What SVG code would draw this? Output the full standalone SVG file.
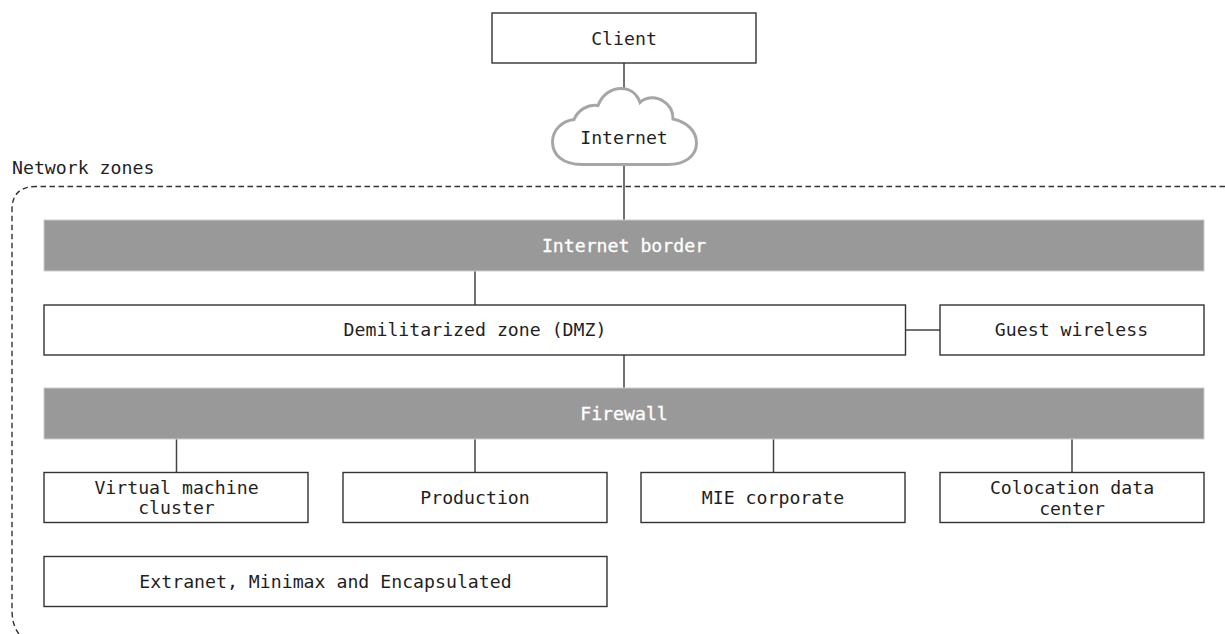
<svg xmlns="http://www.w3.org/2000/svg" width="1225" height="634" viewBox="0 0 1225 634">
<style>
text{font-family:"DejaVu Sans Mono","Liberation Mono",monospace;font-size:18.2px;fill:#1f1f1f;text-anchor:middle;dominant-baseline:central}
.b{fill:#fff;stroke:#333;stroke-width:1.4}
.g{fill:#999;stroke:#ccc;stroke-width:1}
.w{fill:#fff;stroke:#fff;stroke-width:.3}
.c{fill:none;stroke:#444;stroke-width:1.5}
</style>
<rect width="1225" height="634" fill="#fff"/>
<g id="zone">
<path d="M1225 186.500H36Q12 186.500 12 210V610Q12 625 19 634" fill="none" stroke="#333" stroke-width="1.4" stroke-dasharray="5.500 3.500"/>
<text x="12" y="167" style="text-anchor:start">Network zones</text>
</g>
<g id="connectors" class="c">
<path d="M624 63V90M624 165V220M475 271V305M624 355V388M906 330H940M176.500 439V472M475 439V472M773.500 439V472M1072 439V472"/>
</g>
<g id="client"><rect class="b" x="492" y="13" width="264" height="50"/><text x="624" y="38">Client</text></g>
<g id="internet"><path d="M582 164.500C563 164.500 552.500 155 552.500 142C552.500 130 562 121 574 119.500C578 110 588 104 598 105.500C602 95 611 88.500 621 88.500C630 88.500 637 94 640 102.500C646 97 656 96 663 101C670 105 673 112 673 119C687 122 696.500 131 696.500 143C696.500 156 685 164.500 668 164.500Z" fill="#fff" stroke="#a6a6a6" stroke-width="3"/><text x="624" y="137.500">Internet</text></g>
<g id="internet-border"><rect class="g" x="44" y="220" width="1160" height="51"/><text class="w" x="624" y="245">Internet border</text></g>
<g id="dmz"><rect class="b" x="44" y="305" width="861.500" height="50"/><text x="475" y="329.300">Demilitarized zone (DMZ)</text></g>
<g id="guest"><rect class="b" x="940" y="305" width="264" height="50"/><text x="1071.500" y="329.300">Guest wireless</text></g>
<g id="firewall"><rect class="g" x="44" y="388" width="1160" height="51"/><text class="w" x="624" y="413.300">Firewall</text></g>
<g id="vm"><rect class="b" x="44" y="472.500" width="264" height="50"/><text x="176.500" y="487">Virtual machine</text><text x="176.500" y="507">cluster</text></g>
<g id="production"><rect class="b" x="343" y="472.500" width="264" height="50"/><text x="475" y="497.300">Production</text></g>
<g id="mie"><rect class="b" x="641" y="472.500" width="264" height="50"/><text x="773" y="497.300">MIE corporate</text></g>
<g id="colo"><rect class="b" x="940" y="472.500" width="264" height="50"/><text x="1072" y="487">Colocation data</text><text x="1072" y="508.500">center</text></g>
<g id="extranet"><rect class="b" x="44" y="556.500" width="563" height="50"/><text x="325.500" y="581.300">Extranet, Minimax and Encapsulated</text></g>
</svg>
